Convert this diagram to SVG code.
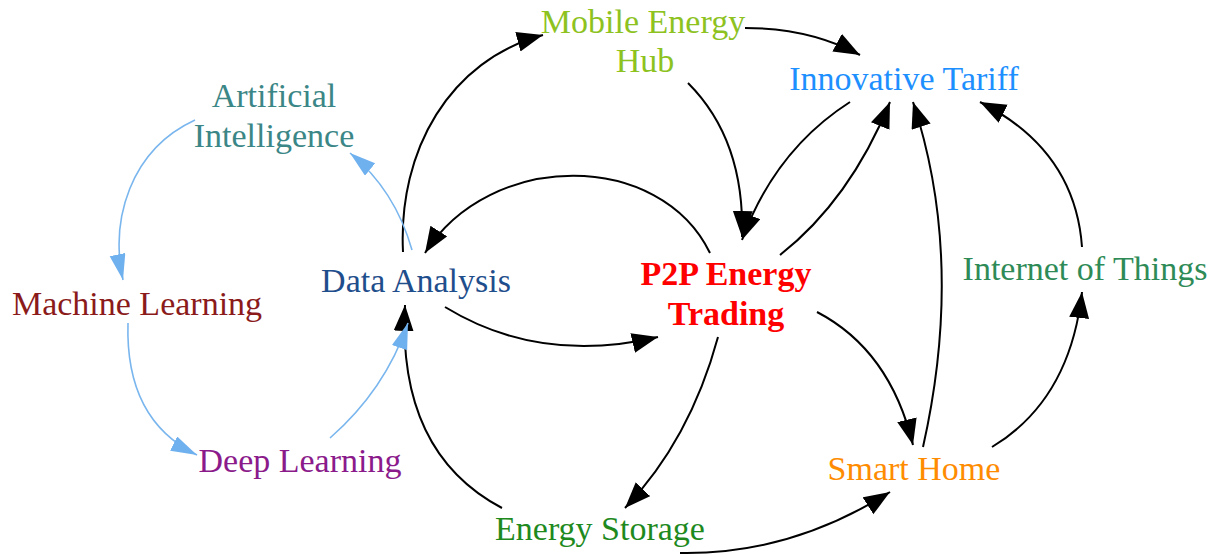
<svg xmlns="http://www.w3.org/2000/svg" width="1217" height="555" viewBox="0 0 1217 555">
<style>
text{font-family:"Liberation Serif","Times New Roman",serif;font-size:34px;text-anchor:middle}
.k{fill:none;stroke:#000;stroke-width:2}
.b{fill:none;stroke:#7ab6ee;stroke-width:1.6}
</style>
<defs>
<marker id="ak" markerWidth="28" markerHeight="22" refX="26" refY="10" orient="auto" markerUnits="userSpaceOnUse"><path d="M0,0 L26,10 L0,20 z" fill="#000"/></marker>
<marker id="abl" markerWidth="28" markerHeight="18" refX="26" refY="8" orient="auto" markerUnits="userSpaceOnUse"><path d="M0,0 L26,8 L0,16 z" fill="#6fb0ee"/></marker>
</defs>
<rect width="1217" height="555" fill="#fff"/>
<g id="connectors">
<path class="k" marker-end="url(#ak)" d="M403,252 C398,150 450,60 543,35"/>
<path class="k" marker-end="url(#ak)" d="M745,28 Q810,28 860,55"/>
<path class="k" marker-end="url(#ak)" d="M688,83 Q745,140 742,237"/>
<path class="k" marker-end="url(#ak)" d="M850,102 Q775,150 742,240"/>
<path class="k" marker-end="url(#ak)" d="M780,255 Q850,200 890,102"/>
<path class="k" marker-end="url(#ak)" d="M710,253 C660,150 490,150 425,253"/>
<path class="k" marker-end="url(#ak)" d="M445,307 Q540,365 658,337"/>
<path class="k" marker-end="url(#ak)" d="M718,337 Q690,440 625,508"/>
<path class="k" marker-end="url(#ak)" d="M502,508 C430,470 400,400 405,305"/>
<path class="k" marker-end="url(#ak)" d="M680,553 Q790,555 890,492"/>
<path class="k" marker-end="url(#ak)" d="M817,312 Q890,350 913,445"/>
<path class="k" marker-end="url(#ak)" d="M923,447 Q965,260 913,102"/>
<path class="k" marker-end="url(#ak)" d="M992,447 Q1070,400 1082,292"/>
<path class="k" marker-end="url(#ak)" d="M1082,247 Q1075,150 980,102"/>
<path class="b" marker-end="url(#abl)" d="M412,250 Q395,190 350,153"/>
<path class="b" marker-end="url(#abl)" d="M195,120 C130,150 110,220 123,280"/>
<path class="b" marker-end="url(#abl)" d="M128,323 Q125,420 197,455"/>
<path class="b" marker-end="url(#abl)" d="M330,438 Q385,390 408,323"/>
</g>
<g id="artificial-intelligence"><text x="274" y="107" fill="#3b8686">Artificial</text><text x="274" y="147" fill="#3b8686">Intelligence</text></g>
<g id="machine-learning"><text x="137" y="315" fill="#8b1a1a">Machine Learning</text></g>
<g id="deep-learning"><text x="300" y="472" fill="#8b1a8b">Deep Learning</text></g>
<g id="data-analysis"><text x="416" y="292" fill="#1f4e8c">Data Analysis</text></g>
<g id="mobile-energy-hub"><text x="643" y="33" fill="#8dc21f">Mobile Energy</text><text x="645" y="72" fill="#8dc21f">Hub</text></g>
<g id="innovative-tariff"><text x="904" y="90" fill="#1e8fff">Innovative Tariff</text></g>
<g id="internet-of-things"><text x="1085" y="280" fill="#2e8b57">Internet of Things</text></g>
<g id="p2p"><text x="726" y="285" fill="#ff0000" font-weight="bold">P2P Energy</text><text x="726" y="325" fill="#ff0000" font-weight="bold">Trading</text></g>
<g id="energy-storage"><text x="600" y="540" fill="#1e8a1e">Energy Storage</text></g>
<g id="smart-home"><text x="914" y="480" fill="#ff8c00">Smart Home</text></g>
</svg>
